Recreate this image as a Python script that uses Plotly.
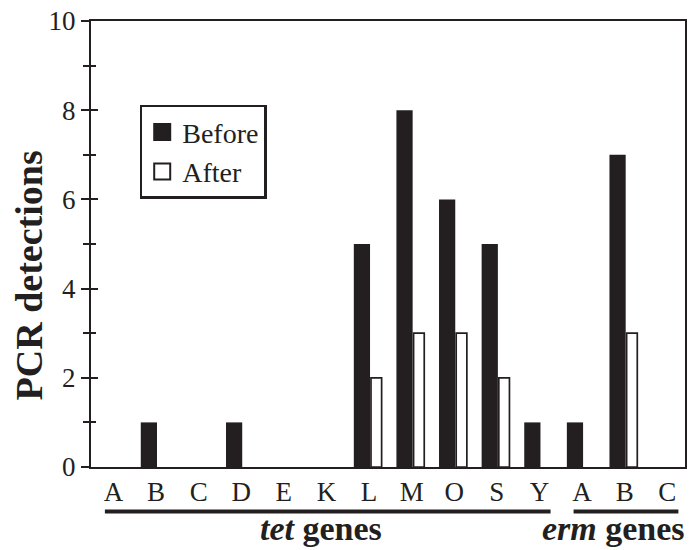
import plotly.graph_objects as go

# ---- data ----
genes = ["A", "B", "C", "D", "E", "K", "L", "M", "O", "S", "Y", "A", "B", "C"]
before = [0, 1, 0, 1, 0, 0, 5, 8, 6, 5, 1, 1, 7, 0]
after = [0, 0, 0, 0, 0, 0, 2, 3, 3, 2, 0, 0, 3, 0]
group_names = ["tet", "erm"]
group_start = [0, 11]
group_end = [10, 13]
y_ticks = [0, 2, 4, 6, 8, 10]

DARK = "#231f20"
FONT = "Liberation Serif"
xs = list(range(len(genes)))
before_drawn = [v if v > 0 else None for v in before]
after_drawn = [v if v > 0 else None for v in after]

fig = go.Figure()
fig.add_trace(go.Bar(x=xs, y=before_drawn, name="Before", marker=dict(color=DARK, line=dict(width=0)),
                     offset=-0.358, width=0.381, showlegend=False))
fig.add_trace(go.Bar(x=xs, y=after_drawn, name="After", marker=dict(color="white", line=dict(width=1.7, color=DARK)),
                     offset=0.045, width=0.25, showlegend=False))
# legend proxies
fig.add_trace(go.Scatter(x=[None], y=[None], mode="markers", name="Before",
                         marker=dict(symbol="square", size=16, color=DARK, line=dict(width=2, color=DARK))))
fig.add_trace(go.Scatter(x=[None], y=[None], mode="markers", name="After",
                         marker=dict(symbol="square", size=16, color="white", line=dict(width=2, color=DARK))))
# overlay axis for inner half of the crossing ticks
fig.add_trace(go.Scatter(x=[None], y=[None], yaxis="y2", showlegend=False))

fig.update_layout(
    width=689, height=550,
    margin=dict(l=91, r=2, t=21, b=83),
    plot_bgcolor="white", paper_bgcolor="white",
    barmode="overlay",
    xaxis=dict(range=[-0.526, 13.415], tickvals=xs, ticktext=genes, ticks="",
               showline=True, linecolor=DARK, linewidth=2, mirror=True,
               showgrid=False, zeroline=False, tickfont=dict(size=27, family=FONT, color=DARK)),
    yaxis=dict(range=[0, 10], tickvals=y_ticks, ticks="outside", ticklen=8, tickwidth=2, tickcolor=DARK,
               minor=dict(dtick=1, tick0=1, ticks="outside", ticklen=6, tickwidth=2, tickcolor=DARK, showgrid=False),
               showline=True, linecolor=DARK, linewidth=2, mirror=True,
               showgrid=False, zeroline=False, tickfont=dict(size=27, family=FONT, color=DARK)),
    yaxis2=dict(range=[0, 10], overlaying="y", side="left", tickvals=y_ticks, ticks="inside", ticklen=7,
                tickwidth=2, tickcolor=DARK, showticklabels=False,
                minor=dict(dtick=1, tick0=1, ticks="inside", ticklen=5, tickwidth=2, tickcolor=DARK, showgrid=False),
                showline=False, showgrid=False, zeroline=False),
    legend=dict(x=0.082, y=0.812, xanchor="left", yanchor="top", bgcolor="white",
                bordercolor=DARK, borderwidth=2.5, font=dict(size=28, family=FONT, color=DARK),
                itemsizing="trace", tracegroupgap=0),
    showlegend=True,
)

# y title
fig.add_annotation(text="<b>PCR detections</b>", textangle=-90, xref="paper", yref="paper",
                   x=-0.104, y=0.43, xanchor="center", yanchor="middle", showarrow=False,
                   font=dict(size=38, family=FONT, color=DARK))

# group lines and labels
for name, s, e in zip(group_names, group_start, group_end):
    fig.add_shape(type="line", xref="x", yref="paper", x0=s - 0.2, x1=e + 0.26, y0=-0.1, y1=-0.1,
                  line=dict(color=DARK, width=4))
    if name == "erm":
        fig.add_annotation(text=f"<b><i>{name}</i> genes</b>", xref="paper", yref="paper", x=1.003, y=-0.138,
                           xanchor="right", yanchor="middle", showarrow=False,
                           font=dict(size=34, family=FONT, color=DARK))
    else:
        fig.add_annotation(text=f"<b><i>{name}</i> genes</b>", xref="x", yref="paper", x=(s + e) / 2 - 0.12,
                           y=-0.138, xanchor="center", yanchor="middle", showarrow=False,
                           font=dict(size=34, family=FONT, color=DARK))

fig.write_html("out.html")
